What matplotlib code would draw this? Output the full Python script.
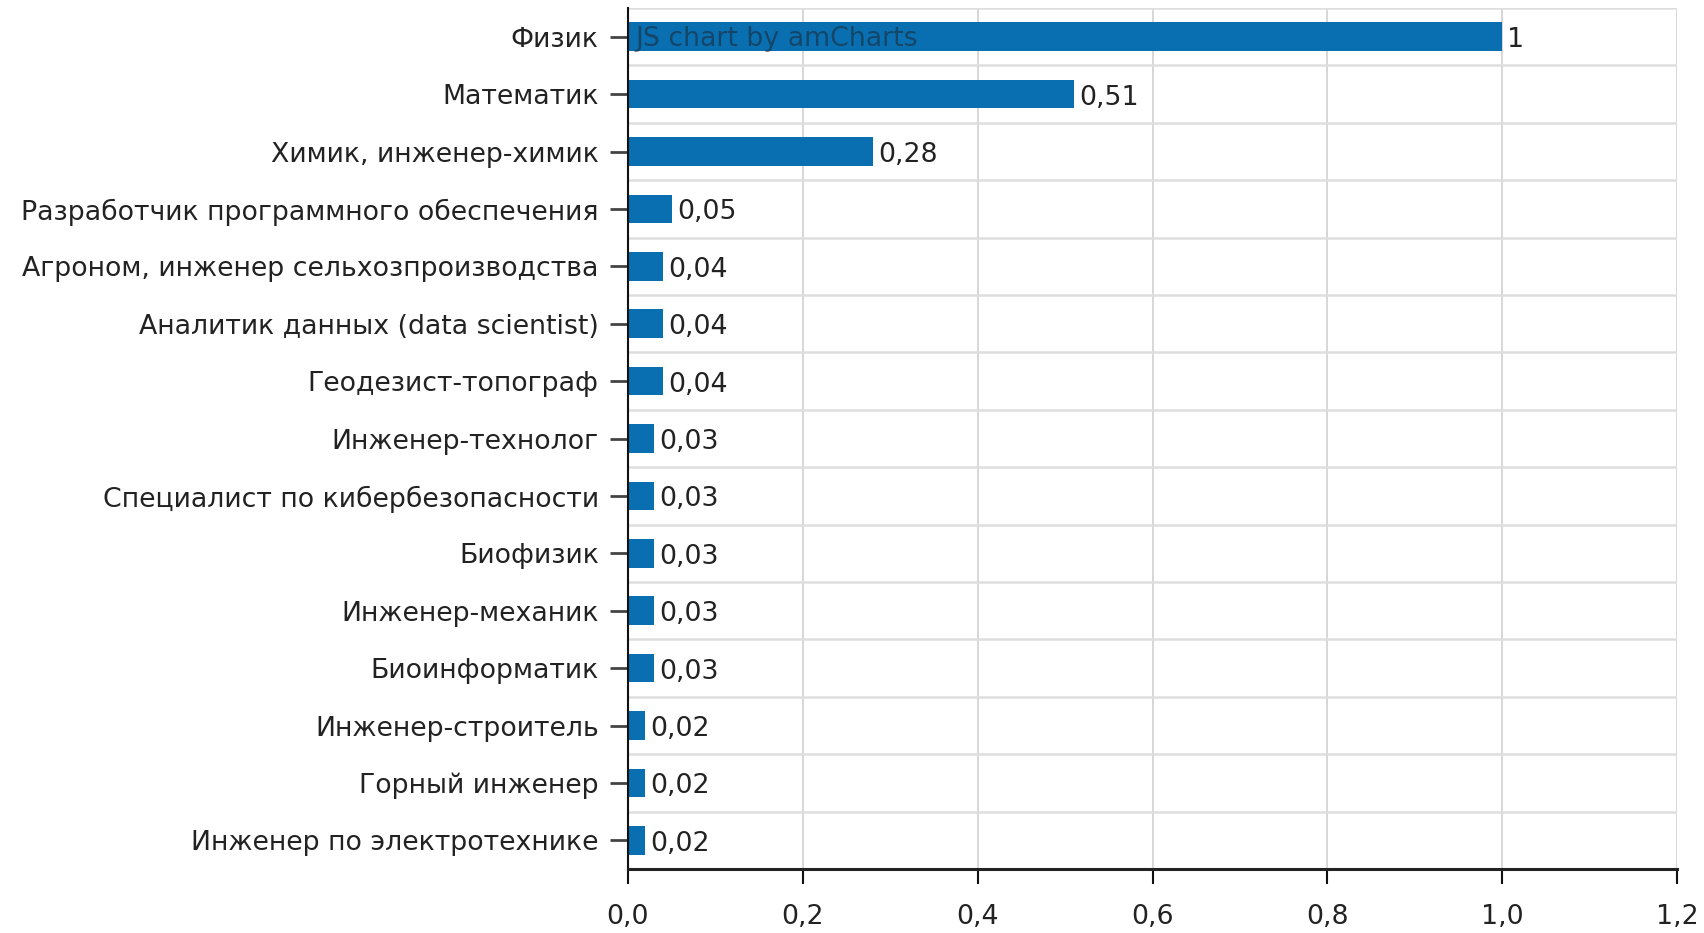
import matplotlib.pyplot as plt
from matplotlib.ticker import FuncFormatter

professions = [
    'Физик',
    'Математик',
    'Химик, инженер-химик',
    'Разработчик программного обеспечения',
    'Агроном, инженер сельхозпроизводства',
    'Аналитик данных (data scientist)',
    'Геодезист-топограф',
    'Инженер-технолог',
    'Специалист по кибербезопасности',
    'Биофизик',
    'Инженер-механик',
    'Биоинформатик',
    'Инженер-строитель',
    'Горный инженер',
    'Инженер по электротехнике',
]
scores = [1, 0.51, 0.28, 0.05, 0.04, 0.04, 0.04, 0.03, 0.03, 0.03, 0.03, 0.03, 0.02, 0.02, 0.02]
x_ticks = [0.0, 0.2, 0.4, 0.6, 0.8, 1.0, 1.2]

plt.rcParams['font.family'] = ['DejaVu Sans']
FS = 19.3

fig = plt.figure(figsize=(17.04, 9.33), dpi=100)
ax = fig.add_axes([628 / 1704, 1 - 869 / 933, (1677 - 628) / 1704, (869 - 8) / 933])

n = len(professions)
pos = list(range(n))
ax.barh(pos, scores, height=0.5, color='#0a6fb0', zorder=3)

for p, v in zip(pos, scores):
    txt = ('%g' % v).replace('.', ',')
    ax.text(v + 0.006, p + 0.06, txt, va='center', ha='left', fontsize=FS, color='#222222', zorder=4)

ax.set_ylim(n - 0.5, -0.5)
ax.set_xlim(0, 1.2)
ax.set_yticks(pos)
ax.set_yticklabels(professions, fontsize=FS, color='#222222')
ax.set_xticks(x_ticks)
ax.xaxis.set_major_formatter(FuncFormatter(lambda v, _: ('%.1f' % v).replace('.', ',')))
ax.tick_params(axis='x', labelsize=FS, labelcolor='#222222', length=11, width=1.5, pad=14, color='#111111')
ax.tick_params(axis='y', length=13, width=2, color='#444444', pad=8)

# grid: vertical at x ticks, horizontal at band boundaries
for xv in x_ticks[1:]:
    ax.axvline(xv, color='#d4d4d4', lw=1.3, zorder=1)
for k in range(n):
    ax.axhline(k - 0.5, color='#dedede', lw=1.8, zorder=1)

for s in ['top', 'right']:
    ax.spines[s].set_visible(False)
ax.spines['left'].set_color('#111111')
ax.spines['left'].set_linewidth(1.5)
ax.spines['bottom'].set_color('#222222')
ax.spines['bottom'].set_linewidth(2.2)
ax.spines['left'].set_zorder(5)
ax.spines['bottom'].set_zorder(5)

ax.text(0.009, 0.04, 'JS chart by amCharts', va='center', ha='left', fontsize=FS,
        color='#1a2b3a', alpha=0.6, zorder=6)

fig.savefig('out.png', dpi=100)
